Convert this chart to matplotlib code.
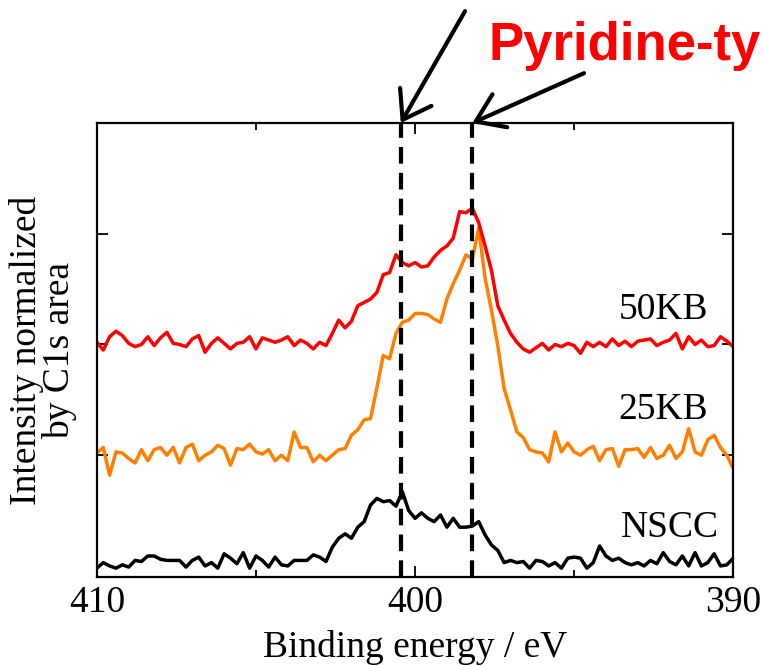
import numpy as np
import matplotlib
matplotlib.use("Agg")
import matplotlib.pyplot as plt
from matplotlib.ticker import MultipleLocator

plt.rcParams['font.family'] = ['Liberation Serif', 'DejaVu Serif']

# binding energy grid, 410 -> 390 eV in 0.2 eV steps
energy = np.linspace(410, 390, 101)

# spectra (offset stacked, arbitrary units)
nscc = [-0.02, 0.03, 0.00, -0.02, 0.01, -0.01, 0.05, 0.04, 0.09, 0.09,
        0.06, 0.05, 0.05, 0.05, -0.01, 0.05, 0.08, 0.00, 0.03, -0.02,
        0.11, 0.07, 0.02, 0.12, -0.02, 0.09, 0.05, -0.01, 0.08, 0.01,
        0.00, 0.05, 0.05, 0.05, 0.10, 0.08, 0.04, 0.17, 0.25, 0.29,
        0.25, 0.35, 0.40, 0.55, 0.61, 0.58, 0.59, 0.54, 0.67, 0.50,
        0.43, 0.48, 0.43, 0.40, 0.46, 0.35, 0.43, 0.35, 0.35, 0.36,
        0.40, 0.28, 0.19, 0.14, 0.03, 0.05, 0.03, 0.04, -0.02, 0.05,
        0.04, 0.00, 0.03, -0.02, 0.07, 0.08, 0.07, -0.02, 0.03, 0.18,
        0.09, 0.05, 0.07, 0.03, 0.01, 0.03, 0.00, 0.05, 0.02, 0.12,
        0.04, 0.01, 0.09, 0.00, 0.12, 0.00, 0.03, 0.11, 0.00, 0.01,
        0.07]

kb25 = [1.02, 1.07, 0.82, 1.03, 1.02, 0.97, 0.93, 1.05, 0.95, 1.05,
        1.07, 1.00, 1.07, 0.93, 1.07, 1.10, 0.95, 1.00, 1.03, 1.09,
        1.06, 0.91, 1.06, 1.05, 1.10, 1.03, 1.01, 1.05, 0.95, 1.00,
        0.95, 1.21, 1.07, 1.07, 0.94, 1.00, 0.95, 1.00, 1.05, 1.06,
        1.18, 1.23, 1.32, 1.33, 1.61, 1.90, 1.87, 2.10, 2.20, 2.22,
        2.28, 2.28, 2.27, 2.23, 2.20, 2.41, 2.55, 2.67, 2.81, 2.77,
        3.05, 2.60, 2.31, 1.99, 1.60, 1.41, 1.21, 1.16, 1.05, 1.03,
        1.02, 0.94, 1.21, 1.03, 1.11, 1.03, 1.00, 1.05, 1.08, 0.95,
        1.05, 1.06, 0.90, 1.05, 1.05, 1.06, 0.98, 1.07, 0.97, 1.00,
        1.09, 0.97, 1.03, 1.24, 1.03, 1.00, 1.14, 1.18, 1.07, 1.00,
        0.88]

kb50 = [2.02, 1.95, 2.07, 2.12, 2.08, 2.01, 1.98, 2.00, 2.07, 1.99,
        2.06, 2.11, 2.01, 2.00, 1.98, 2.05, 2.08, 1.93, 2.01, 2.06,
        2.01, 1.96, 2.01, 2.02, 2.07, 1.96, 2.06, 2.04, 2.02, 2.04,
        2.07, 1.99, 2.04, 2.01, 1.96, 2.02, 1.99, 2.10, 2.22, 2.15,
        2.21, 2.35, 2.38, 2.41, 2.47, 2.63, 2.65, 2.81, 2.74, 2.71,
        2.74, 2.70, 2.71, 2.79, 2.85, 2.89, 2.96, 3.20, 3.19, 3.23,
        3.10, 2.89, 2.67, 2.35, 2.22, 2.10, 2.02, 1.96, 1.93, 1.97,
        2.01, 1.95, 2.00, 1.98, 2.01, 1.99, 1.92, 2.02, 1.98, 2.02,
        1.98, 2.05, 1.99, 2.03, 1.98, 2.03, 2.04, 2.05, 1.99, 2.02,
        2.04, 2.10, 1.96, 2.07, 2.00, 2.04, 1.98, 1.99, 2.07, 2.03,
        1.98]

# name, data, colour, label x, label y
series = [("NSCC", nscc, "black", 392.0, 0.26),
          ("25KB", kb25, "#ff8000", 392.2, 1.33),
          ("50KB", kb50, "red", 392.2, 2.23)]

# peak positions marked with dashed lines
peak_lines = [400.45, 398.2]

fig = plt.figure(figsize=(7.63, 6.66), dpi=100)
ax = fig.add_axes([0.127, 0.1336, 0.834, 0.6817])

for name, vals, col, lx, ly in series:
    ax.plot(energy, vals, color=col, lw=2.5)
    ax.text(lx, ly, name, ha='center', va='baseline', fontsize=27)

for e in peak_lines:
    ax.axvline(e, color='black', lw=3, ls=(0, (4, 2.2)), zorder=5)

ax.set_xlim(410, 390)
ax.set_ylim(-0.1, 4.0)
ax.xaxis.set_major_locator(MultipleLocator(10))
ax.xaxis.set_minor_locator(MultipleLocator(5))
ax.set_yticks([1, 2, 3])
ax.set_yticklabels([])
ax.tick_params(which='both', direction='in', top=True, right=True, width=1.3)
ax.tick_params(which='major', length=8, labelsize=27, pad=6)
ax.tick_params(which='minor', length=5)
for s in ax.spines.values():
    s.set_linewidth(1.6)

ax.set_xlabel("Binding energy / eV", fontsize=27, labelpad=7)
ax.set_ylabel("Intensity normalized\nby C1s area", fontsize=27, labelpad=8,
              linespacing=0.95)

# arrows from the annotation down to the top of the dashed lines
arrow = dict(arrowstyle='->, head_length=0.95, head_width=0.65',
             lw=3, color='black', mutation_scale=20, shrinkA=0, shrinkB=0)
ax.annotate("", xy=(peak_lines[0], 4.0), xytext=(398.43, 5.01),
            arrowprops=arrow, annotation_clip=False)
ax.annotate("", xy=(peak_lines[1], 4.0), xytext=(394.69, 4.45),
            arrowprops=arrow, annotation_clip=False)

fig.text(489 / 763, 1 - 60 / 666, "Pyridine-ty", color='red',
         fontsize=38, fontweight='bold', family='Liberation Sans',
         va='baseline', ha='left')

fig.savefig("out.png", dpi=100)
